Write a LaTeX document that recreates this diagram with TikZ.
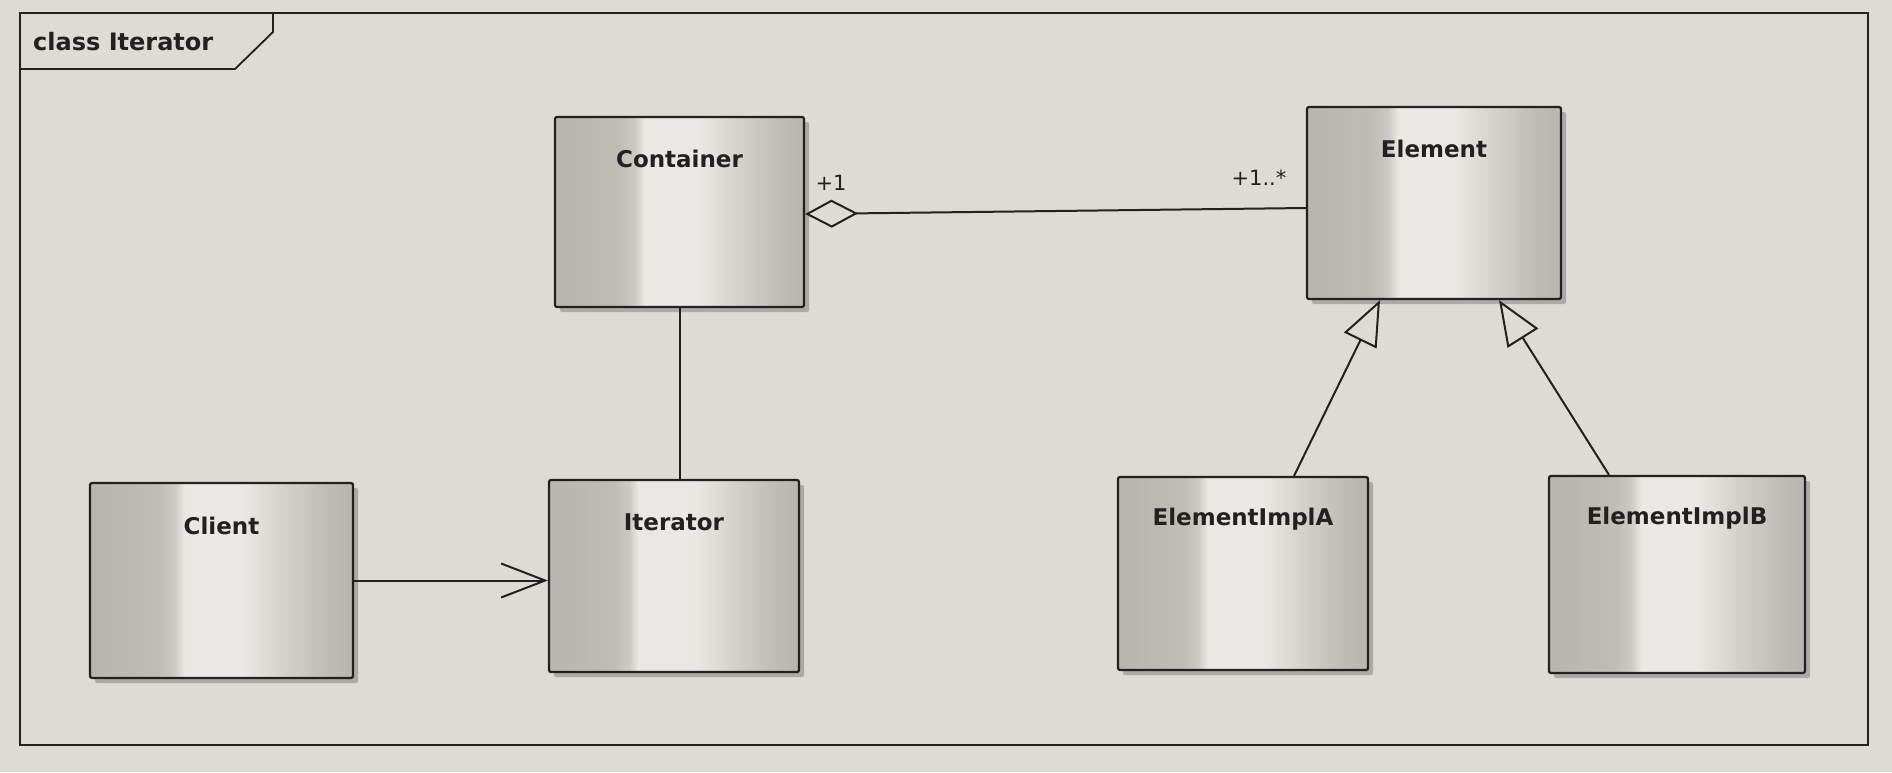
\documentclass[tikz,border=0pt]{standalone}
\usepackage{fontspec}
\setmainfont{DejaVu Sans}
\usetikzlibrary{arrows.meta,shadows,calc}
\definecolor{paper}{RGB}{221,219,213}
\definecolor{boxdark}{RGB}{184,181,174}
\definecolor{boxlight}{RGB}{233,232,228}
\definecolor{ink}{RGB}{35,33,32}
\pgfdeclarehorizontalshading{clsshade}{100bp}{color(0bp)=(boxdark); color(25bp)=(boxdark); color(38bp)=(boxdark!85!boxlight); color(41bp)=(boxdark!60!boxlight); color(43bp)=(boxlight); color(54bp)=(boxlight); color(62bp)=(boxdark!45!boxlight); color(70bp)=(boxdark!85!boxlight); color(75bp)=(boxdark); color(100bp)=(boxdark)}
\begin{document}
\begin{tikzpicture}[x=1pt,y=-1pt,
  cls/.style={draw=ink, line width=2.2pt, rounded corners=2pt, shading=clsshade,
    drop shadow={shadow xshift=5pt, shadow yshift=-5pt, opacity=0.22, fill=black},
    inner sep=0pt},
  clslabel/.style={font=\bfseries\fontsize{23}{27}\selectfont, text=ink, inner sep=0pt},
  mult/.style={font=\fontsize{21}{25}\selectfont, text=ink, inner sep=0pt},
  conn/.style={draw=ink, line width=2pt}]
\useasboundingbox (0,0) rectangle (1892,772);
\fill[paper] (0,0) rectangle (1892,772);
% frame
\draw[ink, line width=1.8pt] (20,13) rectangle (1868,745);
\draw[ink, line width=1.8pt] (20,69) -- (235,69) -- (273,32) -- (273,13);
\node[font=\bfseries\fontsize{24}{28}\selectfont, text=ink, anchor=west, inner sep=0pt] (title) at (33,42) {class Iterator};
% classes
\node[cls, minimum width=249pt, minimum height=190pt] (cont) at (679.5,212) {};
\node[cls, minimum width=254pt, minimum height=192pt] (elem) at (1434,203) {};
\node[cls, minimum width=250pt, minimum height=192pt] (iter) at (674,576) {};
\node[cls, minimum width=263pt, minimum height=195pt] (client) at (221.5,580.5) {};
\node[cls, minimum width=250pt, minimum height=193pt] (implA) at (1243,573.5) {};
\node[cls, minimum width=256pt, minimum height=197pt] (implB) at (1677,574.5) {};
% labels
\node[clslabel] (contL) at ($(cont.north)+(0,43)$) {Container};
\node[clslabel] (elemL) at ($(elem.north)+(0,43)$) {Element};
\node[clslabel] (iterL) at ($(iter.north)+(0,43)$) {Iterator};
\node[clslabel] (clientL) at ($(client.north)+(0,44)$) {Client};
\node[clslabel] (implAL) at ($(implA.north)+(0,43)$) {ElementImplA};
\node[clslabel] (implBL) at ($(implB.north)+(0,43)$) {ElementImplB};
% connectors
\draw[conn, {Diamond[open, length=53pt, width=28pt, fill=paper]}-] ([yshift=-2pt]cont.east) -- ([yshift=-5pt]elem.west);
\node[mult] (m1) at (831,183) {+1};
\node[mult] (m2) at (1259,178) {+1..*};
\draw[conn] (cont.south) -- (cont.south |- iter.north);
\draw[conn, -{Straight Barb[length=44pt, width=34pt]}] (client.east) -- (client.east -| iter.west);
\draw[conn, -{Triangle[length=45pt, width=36pt, fill=boxlight!75!boxdark]}] ([xshift=51pt]implA.north) -- ([xshift=-54pt]elem.south);
\draw[conn, -{Triangle[length=45pt, width=36pt, fill=boxlight!75!boxdark]}] ([xshift=-68pt]implB.north) -- ([xshift=65pt]elem.south);
\end{tikzpicture}
\end{document}
